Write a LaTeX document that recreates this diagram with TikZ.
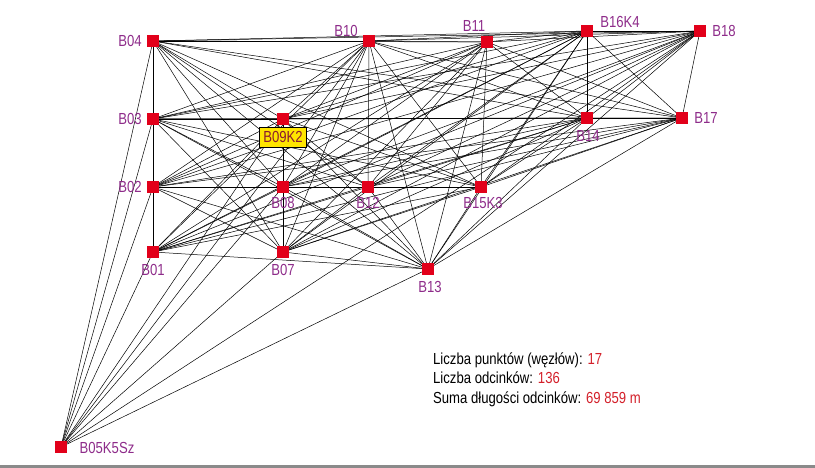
\documentclass[tikz,border=0pt]{standalone}
\usepackage{fontspec}
\setmainfont{Liberation Sans}[FakeStretch=0.82]
\usetikzlibrary{backgrounds}
\definecolor{sqred}{HTML}{E2001A}
\definecolor{lblpurple}{HTML}{8E2C8A}
\definecolor{valred}{HTML}{D3202A}
\definecolor{boxyellow}{HTML}{FFE500}
\definecolor{boxtext}{HTML}{8A1C2E}
\definecolor{bargray}{HTML}{8A8A8A}
\begin{document}
\begin{tikzpicture}[x=1pt,y=-1pt,
  pt/.style={rectangle,fill=sqred,minimum size=11.5pt,inner sep=0pt},
  lbl/.style={text=lblpurple,font=\fontsize{16}{16}\selectfont,inner sep=0pt},
  edge/.style={black,line width=0.5pt},
  info/.style={font=\fontsize{16}{16}\selectfont,inner sep=0pt,anchor=base west},
  tagbox/.style={rectangle,fill=boxyellow,draw=black,line width=0.6pt,text=boxtext,
    font=\fontsize{16}{16}\selectfont,minimum width=47pt,minimum height=20pt,inner sep=0pt}]
\useasboundingbox (0,0) rectangle (815,468);
% points
\node[pt] (B04) at (153,41) {};
\node[pt] (B10) at (369,41) {};
\node[pt] (B11) at (487,42) {};
\node[pt] (B16K4) at (587,31) {};
\node[pt] (B18) at (700,31) {};
\node[pt] (B03) at (153,119) {};
\node[pt] (B09K2) at (283,119) {};
\node[pt] (B14) at (587,118) {};
\node[pt] (B17) at (682,118) {};
\node[pt] (B02) at (153,187) {};
\node[pt] (B08) at (283,187) {};
\node[pt] (B12) at (368,187) {};
\node[pt] (B15K3) at (481,187) {};
\node[pt] (B01) at (153,252) {};
\node[pt] (B07) at (283,252) {};
\node[pt] (B13) at (428,269) {};
\node[pt] (B05K5Sz) at (61,447) {};
% connectors among the upper points
\def\nodelist{B04,B10,B11,B16K4,B18,B03,B09K2,B14,B17,B02,B08,B12,B15K3,B07,B13}
\begin{scope}[on background layer]
\foreach \a [count=\i] in \nodelist {
  \foreach \b [count=\j] in \nodelist {
    \ifnum\j>\i \draw[edge] (\a.center) -- (\b.center); \fi
  }
}
\foreach \b in {B04,B10,B11,B16K4,B18,B03,B09K2,B14,B17,B02,B08,B12,B15K3,B13}
  \draw[edge] (B01.center) -- (\b.center);
\foreach \b in {B04,B03,B02,B01,B09K2,B10,B08,B07,B18,B13}
  \draw[edge] (B05K5Sz.center) -- (\b.center);
\end{scope}
% labels
\node[lbl] (lB04) at (130,41) {B04};
\node[lbl] (lB03) at (130,119) {B03};
\node[lbl] (lB02) at (130,187) {B02};
\node[lbl] (lB10) at (346,31) {B10};
\node[lbl] (lB11) at (474,26) {B11};
\node[lbl] (lB16K4) at (620,22) {B16K4};
\node[lbl] (lB18) at (724,31) {B18};
\node[lbl] (lB14) at (588,136) {B14};
\node[lbl] (lB17) at (706,118) {B17};
\node[lbl] (lB15K3) at (483,203) {B15K3};
\node[lbl] (lB08) at (283,203) {B08};
\node[lbl] (lB12) at (368,203) {B12};
\node[lbl] (lB01) at (153,270) {B01};
\node[lbl] (lB07) at (283,270) {B07};
\node[lbl] (lB13) at (430,287) {B13};
\node[lbl] (lB05K5Sz) at (107,448) {B05K5Sz};
\node[tagbox] (tB09K2) at (283,137) {B09K2};
% info text
\node[info] (t1) at (433,364) {Liczba punktów (węzłów): \textcolor{valred}{17}};
\node[info] (t2) at (433,383.5) {Liczba odcinków: \textcolor{valred}{136}};
\node[info] (t3) at (433,403) {Suma długości odcinków: \textcolor{valred}{69 859 m}};
% bottom bar
\fill[bargray] (0,465) rectangle (815,468);
\end{tikzpicture}
\end{document}
